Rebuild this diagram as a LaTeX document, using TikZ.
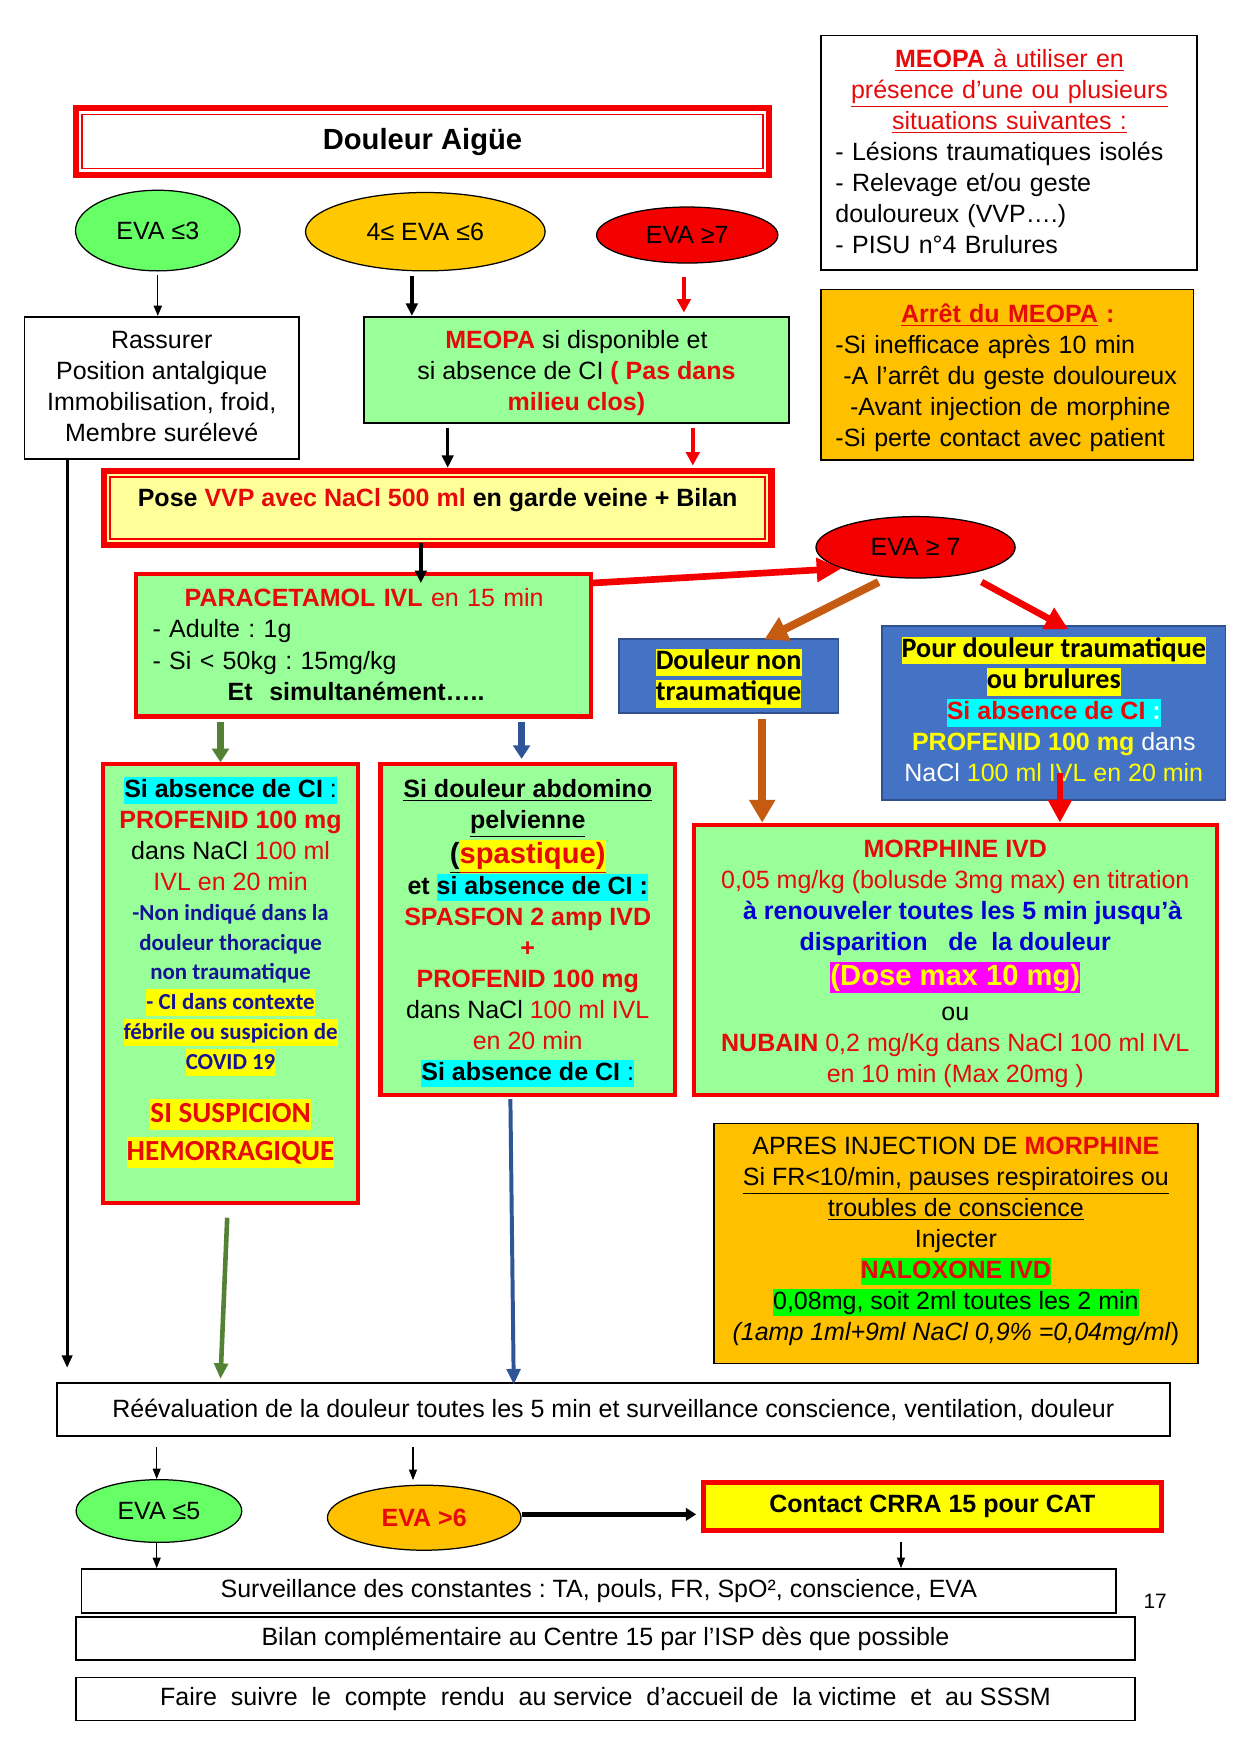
\documentclass[tikz,border=0pt]{standalone}
\usepackage{fontspec}
\setmainfont{Liberation Sans}
\newfontfamily\calib{Carlito}
\usetikzlibrary{arrows.meta,shapes.geometric,calc}
\frenchspacing
\definecolor{boxgreen}{RGB}{153,255,153}
\definecolor{ellgreen}{RGB}{102,255,102}
\definecolor{ellorange}{RGB}{255,200,0}
\definecolor{tred}{RGB}{230,10,10}
\definecolor{bred}{RGB}{245,0,0}
\definecolor{blueb}{RGB}{68,114,196}
\definecolor{bluebd}{RGB}{47,82,143}
\definecolor{hlyellow}{RGB}{255,255,0}
\definecolor{hlcyan}{RGB}{0,255,255}
\definecolor{hlgreen}{RGB}{0,255,0}
\definecolor{hlmag}{RGB}{255,0,255}
\definecolor{navy}{RGB}{20,20,150}
\definecolor{tblue}{RGB}{0,0,210}
\definecolor{brownarr}{RGB}{197,90,17}
\definecolor{greenarr}{RGB}{84,130,53}
\definecolor{bluearr}{RGB}{47,85,151}
\definecolor{lyellow}{RGB}{255,255,153}
\definecolor{orangebox}{RGB}{255,192,0}
\newcommand{\hlt}[2]{{\setlength{\fboxsep}{0pt}\colorbox{#1}{\rule[-3.3pt]{0pt}{13.2pt}#2}}}
\newcommand{\hltb}[2]{{\setlength{\fboxsep}{0pt}\colorbox{#1}{\rule[-3.8pt]{0pt}{15pt}#2}}}
\begin{document}
\begin{tikzpicture}[x=0.5372pt,y=-0.5372pt,
  box/.style={draw, rectangle, inner sep=0pt},
  wbox/.style={box, draw=black, line width=0.8pt, fill=white, font=\fontsize{12}{14.9}\selectfont},
  gbox/.style={box, draw=bred, line width=2pt, fill=boxgreen},
  ell/.style={ellipse, draw=black, line width=0.6pt, inner sep=0pt, font=\fontsize{12}{14}\selectfont},
  txt/.style={inner sep=0pt, font=\fontsize{12}{14.9}\selectfont, align=center},
  arw/.style n args={4}{draw=#1, line width=#2, -{Triangle[width=#3,length=#4]}}]
\fill[white] (0,0) rectangle (1109,1568);
\useasboundingbox (0,0) rectangle (1109,1568);

% title
\node[box, draw=bred, line width=3pt, fill=white, minimum width=332.8pt, minimum height=31.9pt,
  font=\fontsize{14}{16}\selectfont\bfseries] (title) at (377.5,126.5) {Douleur Aigüe};
\draw[bred, line width=0.8pt] ($(title.north west)+(8.4,8.4)$) rectangle ($(title.south east)+(-8.4,-8.4)$);

% ellipses top
\node[ell, fill=ellgreen, minimum width=79pt, minimum height=38.7pt] (e1) at (141,206) {EVA ≤3};
\node[ell, fill=ellorange, minimum width=115pt, minimum height=37.6pt] (e2) at (380,207) {4≤ EVA ≤6};
\node[ell, fill=bred, minimum width=87pt, minimum height=26.9pt] (e3) at (614,210) {EVA ≥7};

% right info boxes
\node[wbox, minimum width=180.2pt, minimum height=112.5pt] (mright) at (901.5,136.5) {};
\node[txt, align=left, text width=167.1pt, anchor=north west] (mrightT) at ($(mright.north west)+(13,9.5)$) {\strut
\makebox[\hsize]{\color{tred}\underline{\textbf{MEOPA} à utiliser en}}\\
\makebox[\hsize]{\color{tred}\underline{présence d’une ou plusieurs}}\\
\makebox[\hsize]{\color{tred}\underline{situations suivantes :}}\\
- Lésions traumatiques isolés\\
- Relevage et/ou geste\\
douloureux (VVP….)\\
- PISU n°4 Brulures};

\node[box, draw=black, line width=0.8pt, fill=orangebox, minimum width=178.6pt, minimum height=81.9pt] (arret) at (900,335) {};
\node[txt, align=left, text width=165.5pt, anchor=north west] (arretT) at ($(arret.north west)+(13,10.5)$) {\strut
\makebox[\hsize]{\color{tred}\bfseries\underline{Arrêt du MEOPA} :}\\
-Si inefficace après 10 min\\
\hspace*{3.8pt}-A l’arrêt du geste douloureux\\
\hspace*{7pt}-Avant injection de morphine\\
-Si perte contact avec patient};

% Rassurer
\node[wbox, minimum width=131.6pt, minimum height=68.2pt] (rass) at (144.5,346.5) {};
\node[txt, anchor=north] (rassT) at ($(rass.north)+(0,9.5)$) {\strut Rassurer\\Position antalgique\\Immobilisation, froid,\\Membre surélevé};

% MEOPA green
\node[box, draw=black, line width=0.8pt, fill=boxgreen, minimum width=204.1pt, minimum height=51pt] (meopa) at (515,330.5) {};
\node[txt, anchor=north] (meopaT) at ($(meopa.north)+(0,9.5)$) {\strut{\color{tred}\bfseries MEOPA} si disponible et\\
si absence de CI {\color{tred}\bfseries ( Pas dans}\\
{\color{tred}\bfseries milieu clos)}};

% VVP
\node[box, draw=bred, line width=3pt, fill=lyellow, minimum width=320.4pt, minimum height=35.7pt] (vvp) at (391,454) {};
\draw[bred, line width=0.8pt] ($(vvp.north west)+(8.4,8.4)$) rectangle ($(vvp.south east)+(-8.4,-8.4)$);
\node[txt, font=\fontsize{12}{14}\selectfont\bfseries] (vvpT) at (391,447) {Pose {\color{tred}VVP avec NaCl 500 ml} en garde veine + Bilan};

% Paracetamol
\node[gbox, minimum width=218.3pt, minimum height=68.4pt] (para) at (325,576.5) {};
\node[txt, align=left, text width=203.1pt, anchor=north west] (paraT) at ($(para.north west)+(16,11.5)$) {\strut
\makebox[\hsize]{\color{tred}\textbf{PARACETAMOL IVL} en 15 min}\\
- Adulte : 1g\\
- Si < 50kg : 15mg/kg\\
\hspace*{36pt}\textbf{Et\ \ simultanément…..}};

% EVA >= 7 second
\node[ell, fill=bred, minimum width=95.6pt, minimum height=29.5pt] (eva2) at (818,489) {EVA ≥ 7};

% blue boxes
\node[box, draw=bluebd, line width=0.8pt, fill=blueb, minimum width=105.3pt, minimum height=35.5pt] (dnt) at (651,604) {};
\node[txt, font=\calib\bfseries\fontsize{13.5}{15}\selectfont] (dntT) at (651,606) {\hlt{hlyellow}{Douleur non}\\\hlt{hlyellow}{traumatique}};

\node[box, draw=bluebd, line width=0.8pt, fill=blueb, minimum width=164.9pt, minimum height=83.8pt] (pdt) at (941.5,637) {};
\node[txt, anchor=north] (pdtT) at ($(pdt.north)+(0,9.5)$) {\strut
\hlt{hlyellow}{\calib\bfseries\fontsize{13.5}{15}\selectfont Pour douleur traumatique}\\
\hlt{hlyellow}{\calib\bfseries\fontsize{13.5}{15}\selectfont ou brulures}\\
\hlt{hlcyan}{\bfseries\color{tred} Si absence de CI {\color{white}:}}\\
{\color{hlyellow}\bfseries PROFENID 100 mg} {\color{white}dans}\\
{\color{white}NaCl} {\color{hlyellow}100 ml IVL en 20 min}};

% left green box
\node[gbox, minimum width=122.6pt, minimum height=210.7pt] (left) at (206,879) {};
\node[txt, anchor=north] (leftT) at ($(left.north)+(0,11.5)$) {\strut
\hlt{hlcyan}{\textbf{Si absence de CI} :}\\
{\color{tred}\bfseries PROFENID 100 mg}\\
dans NaCl {\color{tred}100 ml}\\
{\color{tred}IVL en 20 min}\\[-0.6pt]
{\calib\bfseries\fontsize{11}{14.6}\selectfont\color{navy}-Non indiqué dans la}\\[-0.6pt]
{\calib\bfseries\fontsize{11}{14.6}\selectfont\color{navy}douleur thoracique}\\[-0.6pt]
{\calib\bfseries\fontsize{11}{14.6}\selectfont\color{navy}non traumatique}\\[-0.6pt]
\hlt{hlyellow}{\calib\bfseries\fontsize{11}{14.6}\selectfont\color{navy}- CI dans contexte}\\[-0.6pt]
\hlt{hlyellow}{\calib\bfseries\fontsize{11}{14.6}\selectfont\color{navy}fébrile ou suspicion de}\\[-0.6pt]
\hlt{hlyellow}{\calib\bfseries\fontsize{11}{14.6}\selectfont\color{navy}COVID 19}\\[10.7pt]
\hltb{hlyellow}{\calib\bfseries\fontsize{14}{16}\selectfont\color{tred}SI SUSPICION}\\[2.2pt]
\hltb{hlyellow}{\calib\bfseries\fontsize{14}{16}\selectfont\color{tred}HEMORRAGIQUE}};

% middle green box
\node[gbox, minimum width=141.4pt, minimum height=158.6pt] (mid) at (471.5,830.5) {};
\node[txt, anchor=north] (midT) at ($(mid.north)+(0,11.5)$) {\strut
\textbf{\underline{Si douleur abdomino}}\\
\textbf{\underline{pelvienne}}\\
{\fontsize{14}{16}\selectfont\bfseries\underline{(}\hltb{hlyellow}{\color{tred}\underline{spastique)}}}\\
\textbf{et \hlt{hlcyan}{si absence de CI :}}\\
{\color{tred}\bfseries SPASFON 2 amp IVD}\\
{\color{tred}\bfseries +}\\
{\color{tred}\bfseries PROFENID 100 mg}\\
dans NaCl {\color{tred}100 ml IVL}\\
{\color{tred}en 20 min}\\
\hlt{hlcyan}{\textbf{Si absence de CI} :}};

% morphine box
\node[gbox, minimum width=251pt, minimum height=129.6pt] (morph) at (853.5,857.5) {};
\node[txt, anchor=north] (morphT) at ($(morph.north)+(0,11.5)$) {\strut
{\color{tred}\bfseries MORPHINE IVD}\\
{\color{tred}0,05 mg/kg (bolusde 3mg max) en titration}\\
\hspace*{7pt}{\color{tblue}\bfseries à renouveler toutes les 5 min jusqu’à}\\
{\color{tblue}\bfseries disparition\ \ \ de\ \ la douleur}\\[1.6pt]
{\fontsize{14}{16}\selectfont\hltb{hlmag}{\bfseries\color{hlyellow}(Dose max 10 mg)}}\\[1.8pt]
ou\\
{\color{tred}\textbf{NUBAIN} 0,2 mg/Kg dans NaCl 100 ml IVL}\\
{\color{tred}en 10 min (Max 20mg )}};

% apres injection
\node[box, draw=black, line width=0.8pt, fill=orangebox, minimum width=232.3pt, minimum height=115.2pt] (apres) at (854,1111) {};
\node[txt, anchor=north] (apresT) at ($(apres.north)+(0,8.5)$) {\strut
APRES INJECTION DE {\color{tred}\bfseries MORPHINE}\\
\underline{Si FR<10/min, pauses respiratoires ou}\\
\underline{troubles de conscience}\\
Injecter\\
\hlt{hlgreen}{\color{tred}\bfseries NALOXONE IVD}\\
\hlt{hlgreen}{0,08mg, soit 2ml toutes les 2 min}\\
\textit{(1amp 1ml+9ml NaCl 0,9\% =0,04mg/ml})};

% bottom
\node[wbox, minimum width=534.2pt, minimum height=25.5pt] (reev) at (548,1259.5) {Réévaluation de la douleur toutes les 5 min et surveillance conscience, ventilation, douleur};
\node[ell, fill=ellgreen, minimum width=79.5pt, minimum height=30.1pt] (e5) at (142,1350) {EVA ≤5};
\node[ell, fill=orangebox, minimum width=92.9pt, minimum height=31.2pt, font=\fontsize{12}{14}\selectfont\bfseries\color{tred}] (e6) at (379,1356) {EVA >6};
\node[box, draw=bred, line width=2.5pt, fill=hlyellow, minimum width=219.9pt, minimum height=23.3pt, font=\fontsize{12}{14}\selectfont\bfseries] (crra) at (833,1346) {Contact CRRA 15 pour CAT};
\node[wbox, minimum width=496.6pt, minimum height=21.2pt] (surv) at (535,1421.5) {Surveillance des constantes : TA, pouls, FR, SpO², conscience, EVA};
\node[wbox, minimum width=508.5pt, minimum height=20.7pt] (bilan) at (541,1464) {Bilan complémentaire au Centre 15 par l’ISP dès que possible};
\node[wbox, minimum width=508.5pt, minimum height=20.7pt] (faire) at (541,1518) {Faire\ \ suivre\ \ le\ \ compte\ \ rendu\ \ au service\ \ d’accueil de\ \ la victime\ \ et\ \ au SSSM};
\node[font=\fontsize{10}{12}\selectfont, inner sep=0pt] (pg) at (1032,1431) {17};

% arrows
\draw[arw={black}{0.65pt}{4pt}{5pt}] ($(e1.south)+(0,3)$) -- ($(rass.north)+(-3.5,0)$);
\draw[arw={black}{1.6pt}{5.5pt}{6pt}] ($(e2.south)+(-12,4)$) -- ($(meopa.north)+(-147,0)$);
\draw[arw={bred}{1.9pt}{6.5pt}{6.5pt}] ($(e3.south)+(-3,12)$) -- ($(meopa.north)+(96,-3)$);
\draw[arw={black}{1.6pt}{5.5pt}{6pt}] ($(meopa.south)+(-115,4)$) -- ($(vvp.north)+(9,0)$);
\draw[arw={bred}{1.9pt}{6.5pt}{6.5pt}] ($(meopa.south)+(104,4)$) -- ($(vvp.north)+(228,-2)$);
\draw[arw={black}{1.6pt}{5.5pt}{6pt}] ($(vvp.south)+(-15,-5)$) -- ($(para.north)+(51,10)$);
\draw[arw={bred}{3.2pt}{11pt}{12pt}] ($(para.north east)+(-2,10)$) -- (eva2.196);
\draw[arw={brownarr}{3.8pt}{12pt}{11pt}] ($(eva2.south)+(-33,3)$) -- ($(dnt.north)+(32,1)$);
\draw[arw={bred}{3.2pt}{11pt}{11pt}] ($(eva2.south)+(59,3)$) -- ($(pdt.north)+(13,4)$);
\draw[arw={brownarr}{3.8pt}{12pt}{11pt}] ($(dnt.south)+(30,5)$) -- ($(morph.north)+(-172.5,0)$);
\draw[arw={bred}{2.7pt}{11pt}{11pt}] ($(pdt.south)+(5.5,-25)$) -- ($(morph.north)+(93.5,0)$);
\draw[arw={greenarr}{3.2pt}{8pt}{6.5pt}] ($(para.south)+(-128,3)$) -- ($(left.north)+(-9,0)$);
\draw[arw={bluearr}{3.2pt}{8pt}{6.5pt}] ($(para.south)+(141,3)$) -- ($(mid.north)+(-5.5,-3)$);
\draw[arw={black}{1.3pt}{5pt}{6pt}] ($(rass.south)+(-84.5,0)$) -- ($(reev.north)+(-488,-13)$);
\draw[arw={greenarr}{2.2pt}{6.5pt}{7.5pt}] ($(left.south)+(-3,11)$) -- ($(reev.north)+(-351,-3)$);
\draw[arw={bluearr}{1.9pt}{6.5pt}{7.5pt}] ($(mid.south)+(-15.5,2)$) -- ($(reev.north)+(-89,2)$);
\draw[arw={black}{0.6pt}{3.8pt}{5pt}] ($(reev.south)+(-408,9)$) -- ($(e5.north)+(-2,0)$);
\draw[arw={black}{0.6pt}{3.8pt}{5pt}] ($(reev.south)+(-179,9)$) -- ($(e6.north)+(-10,-4)$);
\draw[arw={black}{2.4pt}{6pt}{5pt}] ($(e6.east)+(0,-3)$) -- ($(crra.west)+(-4,7)$);
\draw[arw={black}{0.6pt}{3.8pt}{5pt}] ($(e5.south)+(-2,0)$) -- ($(surv.north)+(-395,0)$);
\draw[arw={black}{0.6pt}{3.8pt}{5pt}] ($(crra.south)+(-28,8)$) -- ($(surv.north)+(270,0)$);
\end{tikzpicture}
\end{document}
